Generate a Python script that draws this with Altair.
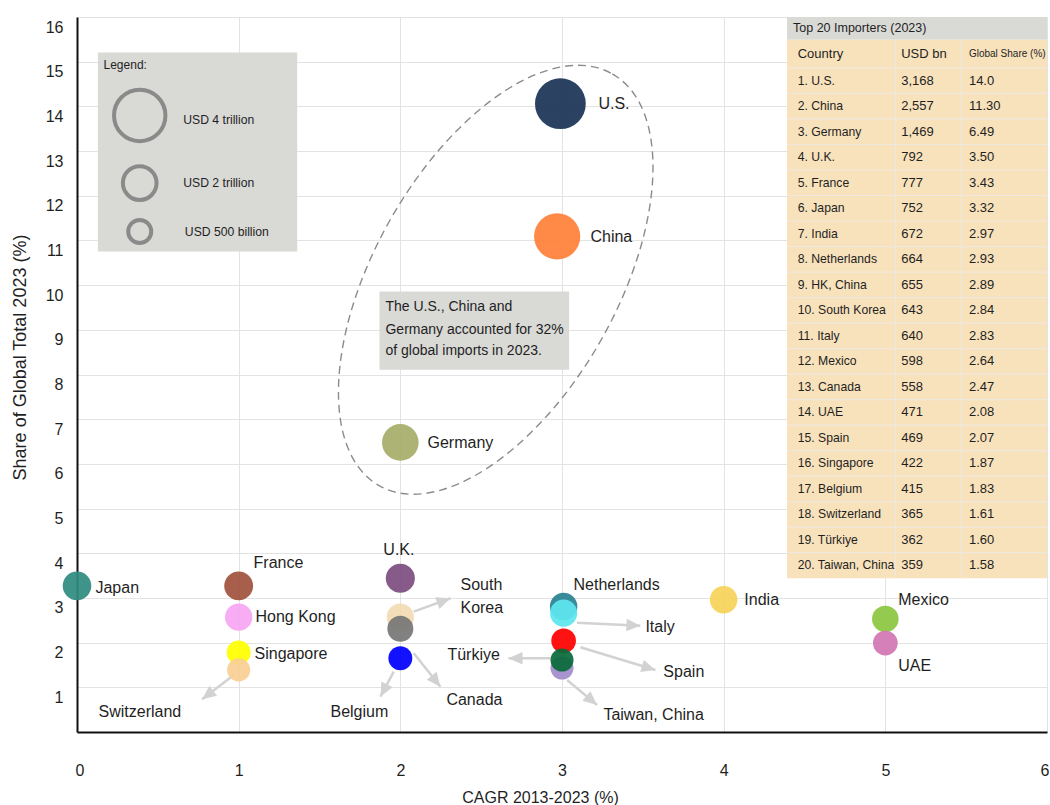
import math
import altair as alt
import pandas as pd

# ---------------- data ----------------
countries = ["Japan", "France", "Hong Kong", "Singapore", "Switzerland", "U.K.",
             "South Korea", "Canada", "Belgium", "Germany", "U.S.", "China",
             "Netherlands", "Italy", "Spain", "Taiwan, China", "Türkiye",
             "India", "Mexico", "UAE"]
cagr = [0, 1, 1, 1, 1, 2, 2, 2, 2, 2, 2.99, 2.97, 3.01, 3.01, 3.01, 3.0, 3.0, 4, 5, 5]
share = [3.27, 3.27, 2.57, 1.78, 1.39, 3.44, 2.57, 2.31, 1.65, 6.48, 14.06, 11.09,
         2.81, 2.66, 2.04, 1.43, 1.61, 2.96, 2.53, 1.99]
usd_bn = [752, 777, 655, 422, 365, 792, 643, 558, 415, 1469, 3168, 2557,
          664, 640, 469, 359, 362, 672, 598, 471]

table_country = ["1. U.S.", "2. China", "3. Germany", "4. U.K.", "5. France", "6. Japan",
                 "7. India", "8. Netherlands", "9. HK, China", "10. South Korea", "11. Italy",
                 "12. Mexico", "13. Canada", "14. UAE", "15. Spain", "16. Singapore",
                 "17. Belgium", "18. Switzerland", "19. Türkiye", "20. Taiwan, China"]
table_usd = ["3,168", "2,557", "1,469", "792", "777", "752", "672", "664", "655", "643",
             "640", "598", "558", "471", "469", "422", "415", "365", "362", "359"]
table_share = ["14.0", "11.30", "6.49", "3.50", "3.43", "3.32", "2.97", "2.93", "2.89", "2.84",
               "2.83", "2.64", "2.47", "2.08", "2.07", "1.87", "1.83", "1.61", "1.60", "1.58"]

legend_labels = ["USD 4 trillion", "USD 2 trillion", "USD 500 billion"]

# ---------------- styles / annotation placement ----------------
palette = ["#2f8c80", "#a0523d", "#f7a6f2", "#ffff00", "#f9cf95", "#7d4e80",
           "#f3dbb5", "#777777", "#0000ff", "#a6ad6a", "#1b3457", "#ff8038",
           "#2a8292", "#5ee6ef", "#ff0000", "#a48ccc", "#0a6b3b",
           "#f7d35a", "#8cc63f", "#d376b4"]

label_pos = [
    ("Japan", 0.114, 3.224), ("France", 1.092, 3.783), ("Hong Kong", 1.104, 2.574),
    ("Singapore", 1.098, 1.746), ("Switzerland", 0.133, 0.448), ("U.K.", 1.895, 4.074),
    ("South", 2.372, 3.291), ("Korea", 2.372, 2.776), ("Türkiye", 2.291, 1.724),
    ("Canada", 2.285, 0.716), ("Belgium", 1.568, 0.448), ("Netherlands", 3.071, 3.291),
    ("Italy", 3.516, 2.351), ("Spain", 3.627, 1.343), ("Taiwan, China", 3.256, 0.381),
    ("India", 4.128, 2.955), ("Mexico", 5.080, 2.955), ("UAE", 5.080, 1.478),
    ("U.S.", 3.225, 14.059), ("China", 3.176, 11.081), ("Germany", 2.168, 6.470),
]

arrows = [  # start (x, y) -> tip (x2, y2)
    (0.970, 1.276, 0.774, 0.732), (1.959, 1.350, 1.877, 0.790),
    (2.083, 1.762, 2.248, 1.014), (2.083, 2.693, 2.310, 2.993),
    (2.928, 1.650, 2.669, 1.650), (3.093, 2.447, 3.485, 2.380),
    (3.114, 1.896, 3.578, 1.388), (3.032, 1.164, 3.217, 0.604),
]

W, H = 970, 715
XMAX, YMAX = 6, 16
pxx, pxy = W / XMAX, H / YMAX
FONT = "Liberation Sans"
TXT = "#1f1f1f"

xs = alt.Scale(domain=[0, XMAX], nice=False, zero=False)
ys = alt.Scale(domain=[0, YMAX], nice=False, zero=False)

bub = pd.DataFrame({"country": countries, "cagr": cagr, "share": share, "usd": usd_bn,
                    "order": list(range(len(countries)))})

# base layer with axes
base = alt.Chart(bub).mark_point(opacity=0).encode(
    x=alt.X("cagr:Q", scale=xs, axis=alt.Axis(
        values=list(range(0, 7)), format="d", title="CAGR 2013-2023 (%)", ticks=False,
        labelPadding=30, labelFlush=True, labelFlushOffset=2,
        grid=True, gridColor="#e3e3e3", gridWidth=1,
        domainColor="#111111", domainWidth=2, labelFontSize=16, labelColor=TXT,
        titleFontSize=16, titleFontWeight="normal", titleColor=TXT,
        titleX=463, titleY=65, titleBaseline="middle", titleAlign="center",
        labelFont=FONT, titleFont=FONT)),
    y=alt.Y("share:Q", scale=ys, axis=alt.Axis(
        values=list(range(1, 17)), format="d", title="Share of Global Total 2023 (%)",
        ticks=False, labelPadding=14, labelOffset=10, labelFlush=False,
        grid=True, gridColor="#e3e3e3", gridWidth=1,
        domainColor="#111111", domainWidth=2, labelFontSize=16, labelColor=TXT,
        titleFontSize=18, titleFontWeight="normal", titleColor=TXT,
        titleAngle=270, titleX=-57, titleY=340, titleBaseline="middle", titleAlign="center",
        labelFont=FONT, titleFont=FONT)),
)

def rect_layer(x, x2, y, y2, color):
    df = pd.DataFrame({"x": [x], "x2": [x2], "y": [y], "y2": [y2]})
    return alt.Chart(df).mark_rect(color=color).encode(
        x=alt.X("x:Q", scale=xs), x2="x2:Q", y=alt.Y("y:Q", scale=ys), y2="y2:Q")

def text_layer(rows, size, align="left", color=TXT):
    df = pd.DataFrame(rows, columns=["t", "x", "y"])
    return alt.Chart(df).mark_text(align=align, baseline="middle", fontSize=size,
                                   font=FONT, color=color).encode(
        x=alt.X("x:Q", scale=xs), y=alt.Y("y:Q", scale=ys), text="t:N")

# legend box
legend_box = rect_layer(0.129, 1.362, 15.207, 10.752, "#d9d9d6")
leg_y = [13.797, 12.283, 11.200]
leg_r = [29, 19, 13]
legend_circles = []
for yy, r in zip(leg_y, leg_r):
    legend_circles.append(
        alt.Chart(pd.DataFrame({"x": [0.388], "y": [yy]})).mark_point(
            shape="circle", filled=False, stroke="#8a8a8a", strokeWidth=4, opacity=1,
            size=math.pi * r * r).encode(x=alt.X("x:Q", scale=xs), y=alt.Y("y:Q", scale=ys)))
legend_texts = text_layer([("Legend:", 0.164, 14.93)], 12)
legend_lbls = text_layer([(legend_labels[0], 0.657, 13.685), (legend_labels[1], 0.657, 12.283),
                          (legend_labels[2], 0.667, 11.178)], 12.2)

# dashed ellipse
ell_path = ("M0,-1 C0.2833,-1 0.513,-0.5523 0.513,0 C0.513,0.5523 0.2833,1 0,1 "
            "C-0.2833,1 -0.513,0.5523 -0.513,0 C-0.513,-0.5523 -0.2833,-1 0,-1 Z")
ellipse = alt.Chart(pd.DataFrame({"x": [2.59], "y": [10.12]})).mark_point(
    shape=ell_path, filled=False, stroke="#8c8c8c", strokeWidth=1.4, strokeDash=[8, 5],
    size=(2 * 236.6) ** 2, angle=29.5, opacity=1).encode(
    x=alt.X("x:Q", scale=xs), y=alt.Y("y:Q", scale=ys))

# annotation box
note_box = rect_layer(1.871, 3.044, 9.857, 8.104, "#d9d9d6")
note_text = text_layer([("The U.S., China and", 1.908, 9.50),
                        ("Germany accounted for 32%", 1.908, 9.0),
                        ("of global imports in 2023.", 1.908, 8.515)], 14)

# arrows
adf = pd.DataFrame(arrows, columns=["x", "y", "x2", "y2"])
adf["ang"] = [math.degrees(math.atan2((r.x2 - r.x) * pxx, (r.y2 - r.y) * pxy)) % 360
              for r in adf.itertuples()]
ACOL = "#d2d2d2"
arrow_lines = alt.Chart(adf).mark_rule(color=ACOL, strokeWidth=2.5).encode(
    x=alt.X("x:Q", scale=xs), y=alt.Y("y:Q", scale=ys), x2="x2:Q", y2="y2:Q")
arrow_heads = alt.Chart(adf).mark_point(
    shape="M0,0 L0.9,2 L-0.9,2 Z", filled=True, color=ACOL, opacity=1, size=196).encode(
    x=alt.X("x2:Q", scale=xs), y=alt.Y("y2:Q", scale=ys), angle=alt.Angle("ang:Q", scale=None))

# bubbles
bubbles = alt.Chart(bub).mark_circle(opacity=0.93).encode(
    x=alt.X("cagr:Q", scale=xs), y=alt.Y("share:Q", scale=ys),
    size=alt.Size("usd:Q", scale=alt.Scale(type="linear", domain=[359, 3168],
                                            range=[530, 2580], zero=False), legend=None),
    color=alt.Color("country:N", scale=alt.Scale(domain=countries, range=palette), legend=None),
    order=alt.Order("order:Q"),
)

labels = text_layer(label_pos, 16)

# table
T_L, T_C1, T_C2, T_R = 4.392, 5.062, 5.468, 6.0
T_TOP, T_TB, T_HB = 16.0, 15.49, 14.86
RH = 0.5709
T_BOT = T_HB - 20 * RH
tbl_title_bg = rect_layer(T_L, T_R, T_TOP, T_TB, "#d9d9d6")
tbl_bg = rect_layer(T_L, T_R, T_TB, T_BOT, "#f8e2bc")
hl = pd.DataFrame({"y": [T_HB - k * RH for k in range(0, 20)]})
hl["x"], hl["x2"] = T_L, T_R
tbl_hlines = alt.Chart(hl).mark_rule(color="#efe8dc", strokeWidth=1.2).encode(
    x=alt.X("x:Q", scale=xs), x2="x2:Q", y=alt.Y("y:Q", scale=ys))
vl = pd.DataFrame({"x": [T_C1, T_C2], "y": [T_TB, T_TB], "y2": [T_BOT, T_BOT]})
tbl_vlines = alt.Chart(vl).mark_rule(color="#efe8dc", strokeWidth=1.2).encode(
    x=alt.X("x:Q", scale=xs), y=alt.Y("y:Q", scale=ys), y2="y2:Q")

X_C, X_U, X_S = 4.458, 5.098, 5.517
tbl_title = text_layer([("Top 20 Importers (2023)", 4.429, (T_TOP + T_TB) / 2)], 12.5)
tbl_head = text_layer([("Country", X_C, (T_TB + T_HB) / 2), ("USD bn", X_U, (T_TB + T_HB) / 2)], 13)
tbl_head2 = text_layer([("Global Share (%)", X_S, (T_TB + T_HB) / 2)], 10)
country_rows, num_rows = [], []
for i in range(20):
    yc = T_HB - (i + 0.5) * RH
    country_rows.append((table_country[i], X_C, yc))
    num_rows += [(table_usd[i], X_U, yc), (table_share[i], X_S, yc)]
tbl_country = text_layer(country_rows, 12.2)
tbl_nums = text_layer(num_rows, 13)

chart = alt.layer(
    base, legend_box, *legend_circles, legend_texts, legend_lbls,
    tbl_title_bg, tbl_bg, tbl_hlines, tbl_vlines,
    ellipse, note_box, note_text,
    arrow_lines, arrow_heads, bubbles, labels,
    tbl_title, tbl_head, tbl_head2, tbl_country, tbl_nums,
).properties(
    width=W, height=H,
    padding={"left": 77, "top": 17, "right": 3, "bottom": 73},
    autosize=alt.AutoSizeParams(type="none"),
).configure(font=FONT, background="white").configure_view(stroke=None)

chart.save("out.html", embed_options={"renderer": "svg", "actions": False})
